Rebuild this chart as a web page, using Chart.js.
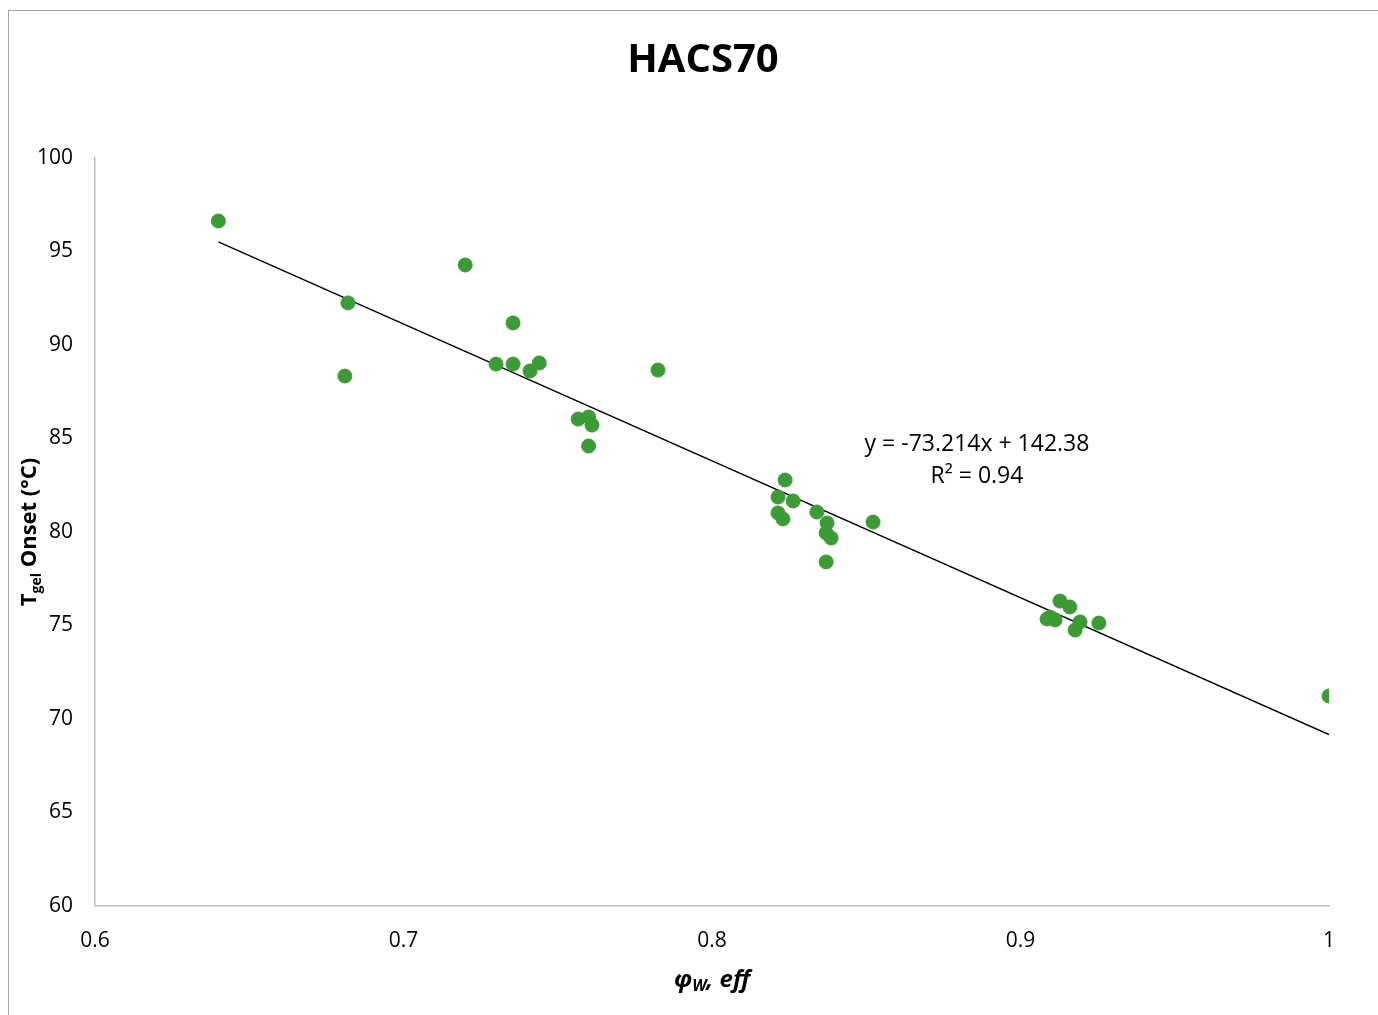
<!DOCTYPE html>
<html>
<head>
<meta charset="utf-8">
<script src="https://cdn.jsdelivr.net/npm/chart.js@4"></script>
<style>
  html, body { margin: 0; padding: 0; background: #fff; overflow: hidden; }
  #frame { position: absolute; left: 8px; top: 10px; width: 1370px; height: 1005px;
           border-left: 1.5px solid #a6a6a6; border-top: 1.5px solid #a6a6a6; box-sizing: border-box; }
  #wrap { position: absolute; left: 0; top: 0; width: 1378px; height: 1015px; }
</style>
</head>
<body>
<div id="frame"></div>
<div id="wrap"><canvas id="chart"></canvas></div>
<script>
// HACS70 gel onset vs effective water fraction
const FONT = '"Open Sans", "DejaVu Sans", sans-serif';
const GREEN = '#3b9b34';
const AXIS = '#bfbfbf';

const phiW = [
  0.640, 0.682, 0.681, 0.720, 0.7355, 0.730, 0.7355, 0.744, 0.741,
  0.7566, 0.760, 0.7611, 0.760, 0.7825,
  0.8237, 0.8214, 0.8263, 0.8214, 0.823, 0.834, 0.8373, 0.837, 0.8386, 0.837, 0.8522,
  0.9128, 0.916, 0.9096, 0.9086, 0.9112, 0.9193, 0.9177, 0.9254,
  1.000
];
const tgelOnset = [
  96.63, 92.25, 88.34, 94.28, 91.18, 88.98, 88.98, 89.04, 88.61,
  86.04, 86.15, 85.72, 84.60, 88.66,
  82.78, 81.87, 81.66, 81.02, 80.70, 81.07, 80.48, 79.95, 79.68, 78.40, 80.53,
  76.31, 75.99, 75.45, 75.35, 75.30, 75.19, 74.76, 75.13,
  71.23
];

// linear trend line end points (as drawn)
const trendX = [0.64, 1.0];
const trendY = [95.52, 69.17];

const xTicks = [0.6, 0.7, 0.8, 0.9, 1];
const yTicks = [60, 65, 70, 75, 80, 85, 90, 95, 100];

const eqLines = ['y = -73.214x + 142.38', 'R² = 0.94'];

// title, axis titles with subscripts, equation label
const labelsPlugin = {
  id: 'labels',
  afterDraw(chart) {
    const ctx = chart.ctx;
    ctx.save();
    ctx.fillStyle = '#000';
    ctx.textBaseline = 'middle';

    // title
    ctx.font = `bold 40px ${FONT}`;
    ctx.textAlign = 'center';
    ctx.fillText('HACS70', 703, 61);

    // equation
    ctx.font = `23px ${FONT}`;
    ctx.fillText(eqLines[0], 977, 444);
    ctx.fillText(eqLines[1], 977, 476);

    // x axis title: φW, eff
    const xParts = [
      { t: 'φ', f: `bold italic 24px ${FONT}`, dy: 0 },
      { t: 'W', f: `bold italic 16px ${FONT}`, dy: 6 },
      { t: ', eff', f: `bold italic 24px ${FONT}`, dy: 0 }
    ];
    drawParts(ctx, xParts, 712, 980);

    // y axis title, rotated
    ctx.translate(30, 532);
    ctx.rotate(-Math.PI / 2);
    const yParts = [
      { t: 'T', f: `bold 22px ${FONT}`, dy: 0 },
      { t: 'gel', f: `bold 14px ${FONT}`, dy: 7 },
      { t: ' Onset (°C)', f: `bold 22px ${FONT}`, dy: 0 }
    ];
    drawParts(ctx, yParts, 0, 0);
    ctx.restore();
  }
};

function drawParts(ctx, parts, cx, cy) {
  let total = 0;
  parts.forEach(p => { ctx.font = p.f; p.w = ctx.measureText(p.t).width; total += p.w; });
  let px = cx - total / 2;
  ctx.textAlign = 'left';
  parts.forEach(p => {
    ctx.font = p.f;
    ctx.fillText(p.t, px, cy + p.dy);
    px += p.w;
  });
}

new Chart(document.getElementById('chart'), {
  type: 'scatter',
  data: {
    datasets: [
      {
        label: 'Tgel Onset',
        data: phiW.map((v, i) => ({ x: v, y: tgelOnset[i] })),
        backgroundColor: GREEN,
        borderColor: GREEN,
        pointRadius: 7,
        order: 1
      },
      {
        label: 'Linear',
        type: 'line',
        data: trendX.map((v, i) => ({ x: v, y: trendY[i] })),
        borderColor: '#000',
        borderWidth: 1.4,
        pointRadius: 0,
        fill: false,
        order: 2
      }
    ]
  },
  options: {
    responsive: true,
    maintainAspectRatio: false,
    animation: false,
    layout: { padding: { left: 0, right: 49, top: 158, bottom: 0 } },
    plugins: {
      legend: { display: false },
      tooltip: { enabled: false }
    },
    scales: {
      x: {
        type: 'linear',
        min: 0.6,
        max: 1,
        afterFit: s => { s.height = 109; },
        afterBuildTicks: s => { s.ticks = xTicks.map(v => ({ value: v })); },
        grid: { display: false, drawTicks: false },
        border: { display: true, color: AXIS, width: 1.5 },
        ticks: {
          padding: 22,
          color: '#000',
          font: { family: FONT, size: 21 },
          callback: v => String(v)
        }
      },
      y: {
        min: 60,
        max: 100,
        afterFit: s => { s.width = 95; },
        afterBuildTicks: s => { s.ticks = yTicks.map(v => ({ value: v })); },
        grid: { display: false, drawTicks: false },
        border: { display: true, color: AXIS, width: 1.5 },
        ticks: {
          padding: 22,
          color: '#000',
          font: { family: FONT, size: 21 },
          callback: v => String(v)
        }
      }
    }
  },
  plugins: [labelsPlugin]
});
</script>
</body>
</html>
